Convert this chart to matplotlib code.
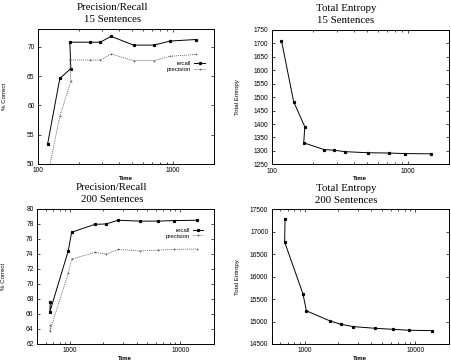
import matplotlib
matplotlib.use("Agg")
import matplotlib.pyplot as plt
from matplotlib.ticker import FixedLocator, FixedFormatter, LogLocator, NullFormatter

# ---- data ----
time15 = [118, 145, 175, 172, 242, 289, 348, 510, 722, 953, 1470]
recall15 = [53.5, 64.6, 66.3, 70.8, 70.8, 70.8, 71.8, 70.3, 70.3, 71.0, 71.25]
precision15 = [48.0, 58.15, 64.1, 67.75, 67.75, 67.75, 68.8, 67.65, 67.65, 68.4, 68.7]
entropy15 = [1710, 1483, 1390, 1330, 1305, 1302, 1297, 1293, 1292, 1290, 1289]

time200 = [660, 655, 960, 1030, 1680, 2110, 2720, 4300, 6200, 8700, 14000]
recall200 = [67.55, 66.3, 74.4, 76.9, 77.95, 78.0, 78.5, 78.38, 78.38, 78.45, 78.5]
precision200 = [64.45, 63.7, 71.45, 73.3, 74.2, 73.95, 74.6, 74.4, 74.5, 74.6, 74.65]
entropy200 = [17276, 16770, 15612, 15239, 15015, 14940, 14888, 14850, 14828, 14806, 14798]

xt15 = [100, 1000]
xt200 = [1000, 10000]
yt_pr15 = [50, 55, 60, 65, 70]
yt_en15 = [1250, 1300, 1350, 1400, 1450, 1500, 1550, 1600, 1650, 1700, 1750]
yt_pr200 = [62, 64, 66, 68, 70, 72, 74, 76, 78, 80]
yt_en200 = [14500, 15000, 15500, 16000, 16500, 17000, 17500]

W, H = 452, 361
fig = plt.figure(figsize=(W / 100, H / 100), dpi=100)

SANS = "Liberation Sans"
SERIF = "Liberation Serif"
TICKFS = 4.8
LABFS = 4.4


def add_ax(x0, x1, y0, y1):
    return fig.add_axes([x0 / W, 1 - y1 / H, (x1 - x0) / W, (y1 - y0) / H])


def style(ax, xlim, ylim, xt, yt, ylabel):
    ax.set_xscale("log")
    ax.set_xlim(*xlim)
    ax.set_ylim(*ylim)
    ax.xaxis.set_major_locator(FixedLocator(xt))
    ax.xaxis.set_major_formatter(FixedFormatter([str(v) for v in xt]))
    ax.xaxis.set_minor_locator(LogLocator(base=10, subs=range(2, 10)))
    ax.xaxis.set_minor_formatter(NullFormatter())
    ax.yaxis.set_major_locator(FixedLocator(yt))
    ax.yaxis.set_major_formatter(FixedFormatter([str(v) for v in yt]))
    ax.tick_params(which="both", direction="in", top=True, right=True,
                   width=0.5, labelsize=TICKFS, pad=2.5)
    ax.tick_params(which="major", length=2.5)
    ax.tick_params(which="minor", length=1.3)
    for lab in ax.get_xticklabels() + ax.get_yticklabels():
        lab.set_fontfamily(SANS)
    for s in ax.spines.values():
        s.set_linewidth(0.7)
    ax.set_xlabel("Time", fontsize=LABFS, family=SANS, fontweight="bold")
    ax.set_ylabel(ylabel, fontsize=LABFS, family=SANS)
    ax.xaxis.set_label_coords(0.5, -0.09)
    ax.yaxis.set_label_coords(-0.178, 0.5)


def pr_plot(ax, t, rec, prec, legend_anchor):
    ax.plot(t, rec, color="black", lw=0.7, marker="s", ms=1.3,
            label="recall")
    ax.plot(t, prec, color="0.35", lw=0.6, ls=(0, (1.2, 1.2)), marker="+",
            ms=2.0, mew=0.5, label="precision")
    leg = ax.legend(loc="upper right", bbox_to_anchor=legend_anchor,
                    markerfirst=False, frameon=False, handlelength=1.75,
                    handletextpad=0.5, labelspacing=0.05, borderpad=0,
                    borderaxespad=0,
                    prop={"family": SANS, "size": LABFS})
    for txt in leg.get_texts():
        txt.set_ha("right")


def en_plot(ax, t, ent):
    ax.plot(t, ent, color="black", lw=0.7, marker="s", ms=1.3)


ax1 = add_ax(38, 213.7, 29.3, 164)
pr_plot(ax1, time15, recall15, precision15, (0.95, 0.765))
style(ax1, (100, 2000), (50, 73), xt15, yt_pr15, "% Correct")

ax2 = add_ax(271.7, 448.7, 30, 164.3)
en_plot(ax2, time15, entropy15)
style(ax2, (100, 2000), (1250, 1750), xt15, yt_en15, "Total Entropy")

ax3 = add_ax(37, 213.7, 209, 343.7)
pr_plot(ax3, time200, recall200, precision200, (0.942, 0.861))
style(ax3, (500, 20000), (62, 80), xt200, yt_pr200, "% Correct")

ax4 = add_ax(271.7, 448.7, 209.3, 344)
en_plot(ax4, time200, entropy200)
style(ax4, (500, 20000), (14500, 17500), xt200, yt_en200, "Total Entropy")

TFS = 7.8


def title(x, y1, y2, l1, l2):
    fig.text(x / W, 1 - y1 / H, l1, ha="center", va="center",
             fontsize=TFS, family=SERIF)
    fig.text(x / W, 1 - y2 / H, l2, ha="center", va="center",
             fontsize=TFS, family=SERIF)


title(112.7, 7.5, 19.8, "Precision/Recall", "15 Sentences")
title(346, 8.3, 20.6, "Total Entropy", "15 Sentences")
title(111.7, 187.7, 199.5, "Precision/Recall", "200 Sentences")
title(346, 188.3, 200.3, "Total Entropy", "200 Sentences")

fig.savefig("out.png", dpi=100)
